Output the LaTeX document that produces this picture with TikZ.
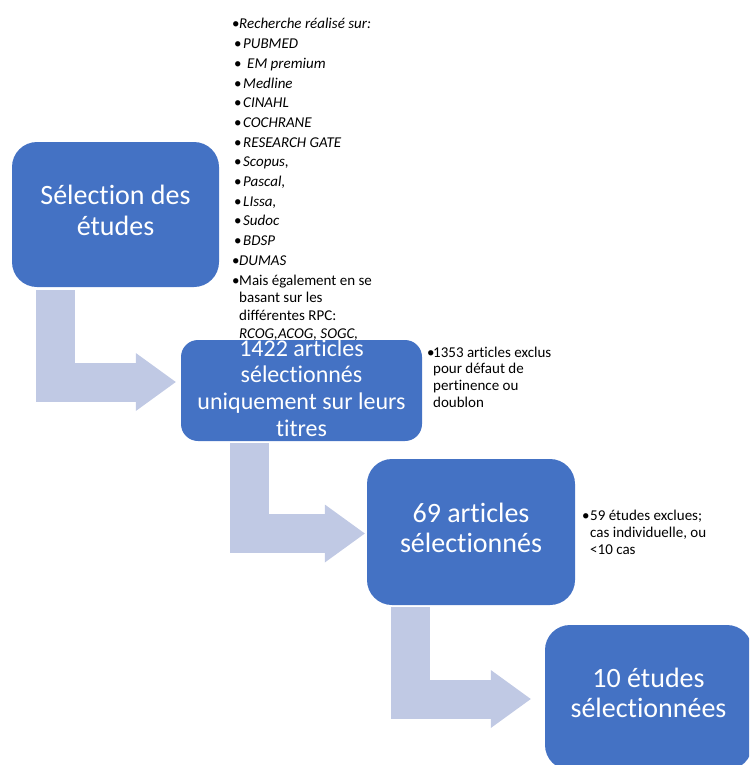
\documentclass[tikz,border=0pt]{standalone}
\usepackage{fontspec}
\setmainfont{Carlito}[Ligatures={NoCommon}]
\usetikzlibrary{arrows.meta}
\definecolor{boxblue}{RGB}{68,114,196}
\definecolor{arrowblue}{RGB}{192,201,228}
\newcommand{\bul}[1][9pt]{\makebox[#1][l]{•}}
\begin{document}
\begin{tikzpicture}[x=1pt, y=1pt,
    stagebox/.style={rectangle, rounded corners=25pt, fill=boxblue, text=white, align=center, inner sep=0pt,
      execute at begin node=\strut, execute at end node={\rule[-2pt]{0pt}{2pt}}},
    boxlabel/.style={text=white, align=center, inner sep=0pt,
      execute at begin node=\strut, execute at end node={\rule[-2pt]{0pt}{2pt}}},
    sidetext/.style={align=left, inner sep=0pt, anchor=base west, text=black},
    bentarrow/.style={draw=arrowblue, line width=39pt, -{Triangle[length=40pt, width=58pt, line width=0pt]}}
  ]
  \useasboundingbox (0,0) rectangle (749,-765);
  \clip (0,0) rectangle (749,-765);

  % Nodes
  \node (sel) [stagebox, minimum width=207pt, minimum height=145pt, font=\fontsize{28}{31}\selectfont] at (115.5,-214.5) {Sélection des\\études};
  \node (art) [stagebox, rounded corners=17pt, minimum width=241pt, minimum height=101pt,
    label={[boxlabel, yshift=-1.5pt, font=\fontsize{24}{26.7}\selectfont]center:1422 articles\\sélectionnés\\uniquement sur leurs\\titres}] at (301.5,-390.5) {};
  \node (res) [stagebox, minimum width=208pt, minimum height=146pt, font=\fontsize{28}{30}\selectfont] at (471,-532) {69 articles\\sélectionnés};
  \node (fin) [stagebox, minimum width=207pt, minimum height=145pt, font=\fontsize{28}{30}\selectfont] at (648.5,-697.5) {10 études\\sélectionnées};

  % Side texts
  \node (sources) [sidetext, font=\fontsize{15}{17.7}\selectfont] at (232,-29) {%
    \begin{tabular}[t]{@{}l@{}}
    \bul[7pt]\textit{Recherche réalisé sur:}\\[2pt]
    \hspace*{2pt}\bul\textit{PUBMED}\\[2pt]
    \hspace*{2pt}\bul[13pt]\textit{EM premium}\\[2pt]
    \hspace*{2pt}\bul\textit{Medline}\\[2pt]
    \hspace*{2pt}\bul\textit{CINAHL}\\[2pt]
    \hspace*{2pt}\bul\textit{COCHRANE}\\[2pt]
    \hspace*{2pt}\bul\textit{RESEARCH GATE}\\[2pt]
    \hspace*{2pt}\bul\textit{Scopus,}\\[2pt]
    \hspace*{2pt}\bul\textit{Pascal,}\\[2pt]
    \hspace*{2pt}\bul\textit{LIssa,}\\[2pt]
    \hspace*{2pt}\bul\textit{Sudoc}\\[2pt]
    \hspace*{2pt}\bul\textit{BDSP}\\[2pt]
    \bul[7pt]\textit{DUMAS}\\[2pt]
    \bul[7pt]\begin{tabular}[t]{@{}l@{}}Mais également en se\\basant sur les\\différentes RPC:\\\textit{RCOG,ACOG, SOGC,}\end{tabular}
    \end{tabular}};
  \node (excl1) [sidetext, font=\fontsize{15}{16.7}\selectfont] at (427,-357) {%
    \bul[6pt]\begin{tabular}[t]{@{}l@{}}1353 articles exclus\\pour défaut de\\pertinence ou\\doublon\end{tabular}};
  \node (excl2) [sidetext, font=\fontsize{15}{17}\selectfont] at (582,-520) {%
    \bul[8pt]\begin{tabular}[t]{@{}l@{}}59 études exclues;\\cas individuelle, ou\\<10 cas\end{tabular}};

  % Edges
  \draw[bentarrow] ([shift={(43.5,-3)}]sel.south west) |- ([shift={(-5,8.5)}]art.west);
  \draw[bentarrow] ([shift={(68.5,-2)}]art.south west) |- ([shift={(-2,-1.5)}]res.west);
  \draw[bentarrow] ([shift={(44,-2)}]res.south west) |- ([shift={(-14,-1.5)}]fin.west);
\end{tikzpicture}
\end{document}
